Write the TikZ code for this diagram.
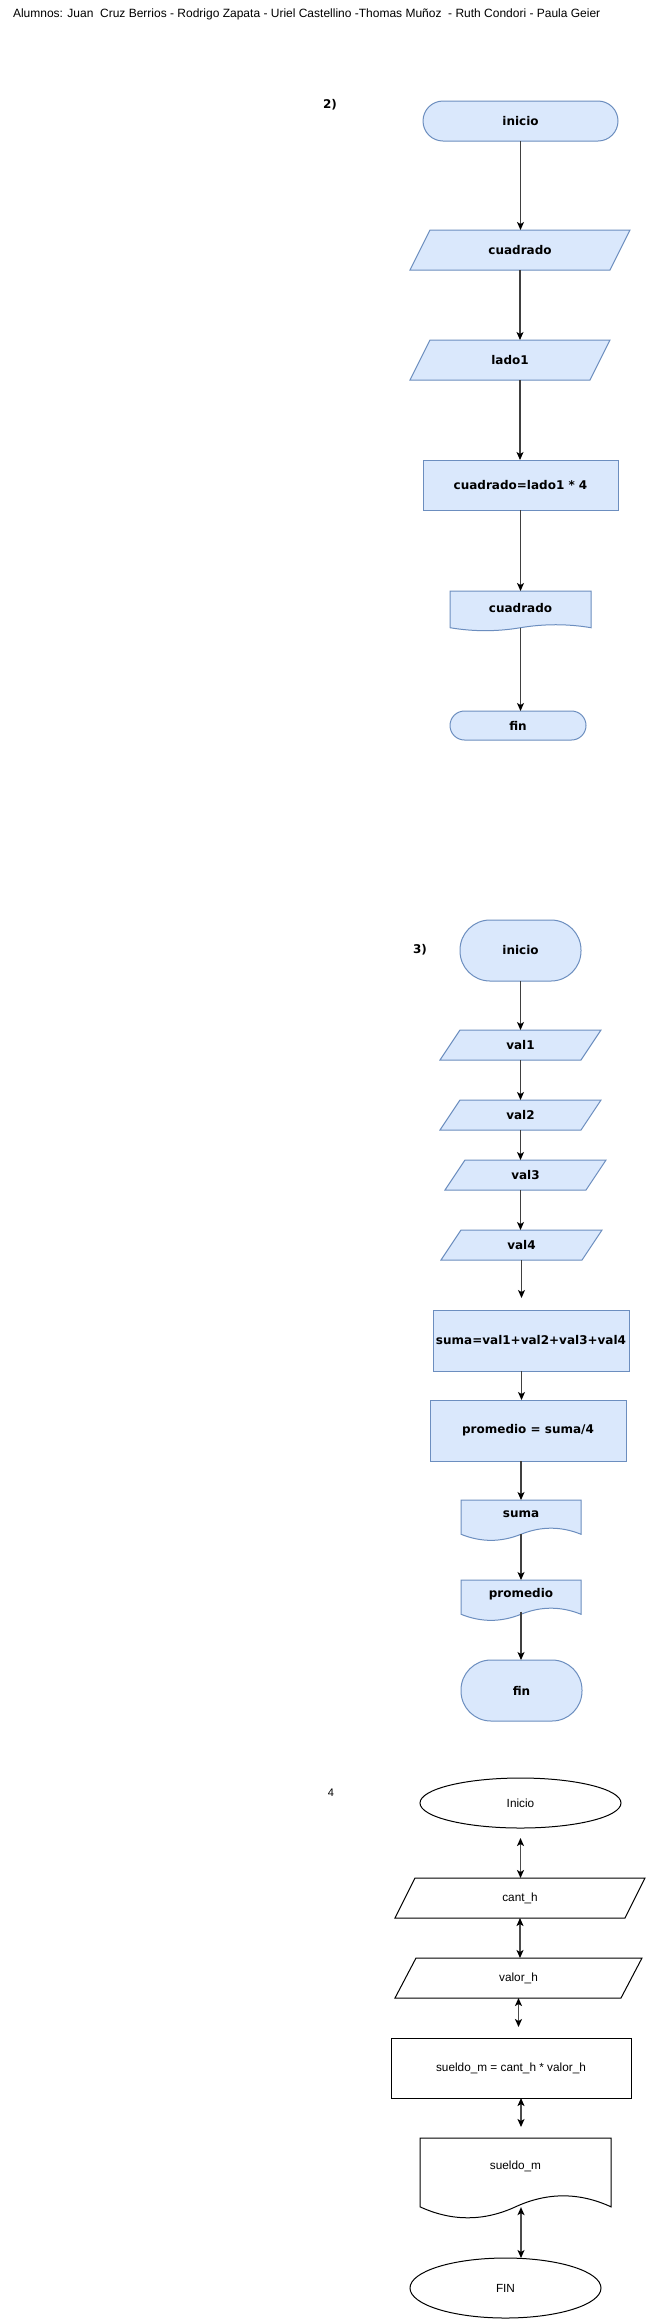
\documentclass[tikz,border=0pt]{standalone}
\usepackage{fontspec}
\setmainfont{Liberation Sans}
\newfontfamily\dejavu{DejaVu Sans}
\usetikzlibrary{arrows.meta,calc,backgrounds,shapes.geometric}
\definecolor{bfill}{HTML}{DAE8FC}
\definecolor{bline}{HTML}{6C8EBF}

% document shape outline around a text node (#2), wave depth #3
\newcommand\docoutline[3]{%
 \begin{pgfonlayer}{background}
 \filldraw[#1] (#2.north west) -- (#2.north east) -- ($(#2.south east)+(0,-0.5*#3)$)
   .. controls ($(#2.south west)!0.8333!(#2.south east)+(0,0.1*#3)$) and ($(#2.south west)!0.6667!(#2.south east)+(0,0.1*#3)$) .. ($(#2.south)+(0,-0.5*#3)$)
   .. controls ($(#2.south west)!0.3333!(#2.south east)+(0,-1.1*#3)$) and ($(#2.south west)!0.1667!(#2.south east)+(0,-1.1*#3)$) .. ($(#2.south west)+(0,-0.5*#3)$) -- cycle;
 \end{pgfonlayer}}
% parallelogram outline around a text node (#2), slant #3
\newcommand\paraoutline[3]{%
 \begin{pgfonlayer}{background}
 \filldraw[#1] ($(#2.north west)+(0.5*#3,0)$) -- ($(#2.north east)+(0.5*#3,0)$) -- ($(#2.south east)+(-0.5*#3,0)$) -- ($(#2.south west)+(-0.5*#3,0)$) -- cycle;
 \end{pgfonlayer}}

\tikzset{
 blu/.style={fill=bfill, draw=bline, line width=1pt},
 blk/.style={fill=white, draw=black, line width=1pt},
 bt/.style={font=\dejavu\bfseries\fontsize{12}{14}\selectfont, text=black, inner sep=0pt, outer sep=0pt},
 nt/.style={font=\fontsize{11.8}{13}\selectfont, text=black, inner sep=0pt, outer sep=0pt},
 conn/.style={draw=black!75, line width=1.1pt, -{Stealth[length=8pt,width=7pt,inset=2pt,color=black]}},
 dconn/.style={draw=black!70, line width=1.4pt, {Stealth[length=8pt,width=7pt,inset=2pt,color=black]}-{Stealth[length=8pt,width=7pt,inset=2pt,color=black]}},
}

\begin{document}
\begin{tikzpicture}[x=1pt,y=-1pt]
\begin{pgfonlayer}{background}
\fill[white] (0,0) rectangle (646,2319);
\end{pgfonlayer}
\useasboundingbox (0,0) rectangle (646,2319);

% title
\node[nt, anchor=west, font=\fontsize{12}{14}\selectfont] (title) at (13,14)
 {Alumnos: Juan\ \ Cruz Berrios - Rodrigo Zapata - Uriel Castellino -Thomas Muñoz\ \ - Ruth Condori - Paula Geier};

% ---------- 2) ----------
\node[bt] (lab2) at (330,105) {2)};
\node[bt, blu, rounded corners=20pt, minimum width=195pt, minimum height=40pt] (s2ini) at (520.5,121) {inicio};
\node[bt, minimum width=200pt, minimum height=40pt] (s2cua) at (520,250) {cuadrado};
\paraoutline{blu}{s2cua}{20pt}
\node[bt, minimum width=180pt, minimum height=40pt] (s2lado) at (510,360) {lado1};
\paraoutline{blu}{s2lado}{20pt}
\node[bt, blu, minimum width=195pt, minimum height=50pt] (s2proc) at (520.5,485) {cuadrado=lado1 * 4};
\node[bt, minimum width=141pt, minimum height=33.4pt] (s2doc) at (520.5,607.7) {cuadrado};
\docoutline{blu}{s2doc}{6.6pt}
\node[bt, blu, rounded corners=14.5pt, minimum width=136pt, minimum height=29pt] (s2fin) at (518,725.5) {fin};

\draw[conn] (s2ini.south) -- (s2ini.south |- s2cua.north);
\draw[conn] (s2cua.south) -- (s2cua.south |- s2lado.north);
\draw[conn] (s2cua.south |- s2lado.south) -- (s2cua.south |- s2proc.north);
\draw[conn] (s2proc.south) -- (s2proc.south |- s2doc.north);
\draw[conn] ([yshift=-3.3pt]s2doc.south) -- (s2doc.south |- s2fin.north);

% ---------- 3) ----------
\node[bt] (lab3) at (420,950) {3)};
\node[bt, blu, rounded corners=30pt, minimum width=121pt, minimum height=61pt] (s3ini) at (520.5,950.5) {inicio};
\node[bt, minimum width=141pt, minimum height=30pt] (v1) at (520.5,1045) {val1};
\paraoutline{blu}{v1}{20pt}
\node[bt, minimum width=141pt, minimum height=30pt] (v2) at (520.5,1115) {val2};
\paraoutline{blu}{v2}{20pt}
\node[bt, minimum width=141pt, minimum height=30pt] (v3) at (525.5,1175) {val3};
\paraoutline{blu}{v3}{20pt}
\node[bt, minimum width=141pt, minimum height=30pt] (v4) at (521.5,1245) {val4};
\paraoutline{blu}{v4}{20pt}
\node[bt, blu, minimum width=196pt, minimum height=61pt] (suma) at (531,1340.5) {suma=val1+val2+val3+val4};
\node[bt, blu, minimum width=196pt, minimum height=61pt] (prom) at (528,1430.5) {promedio = suma/4};
\node[bt, minimum width=120pt, minimum height=27.5pt] (sdoc) at (521,1513.75) {suma};
\docoutline{blu}{sdoc}{13.5pt}
\node[bt, minimum width=120pt, minimum height=27.5pt] (pdoc) at (521,1593.75) {promedio};
\docoutline{blu}{pdoc}{13.5pt}
\node[bt, blu, rounded corners=30pt, minimum width=121pt, minimum height=61pt] (s3fin) at (521.5,1690.5) {fin};

\draw[conn] (s3ini.south) -- (s3ini.south |- v1.north);
\draw[conn] (v1.south) -- (v1.south |- v2.north);
\draw[conn] (v2.south) -- (v2.south |- v3.north);
\draw[conn] (v2.south |- v3.south) -- (v2.south |- v4.north);
\draw[conn, shorten >=12pt] (v4.south) -- (v4.south |- suma.north);
\draw[conn] (v4.south |- suma.south) -- (v4.south |- prom.north);
\draw[conn] (sdoc.north |- prom.south) -- (sdoc.north);
\draw[conn] ([yshift=-6.75pt]sdoc.south) -- (pdoc.north);
\draw[conn] ([yshift=-4pt]pdoc.south) -- (pdoc.south |- s3fin.north);

% ---------- 4 ----------
\node[nt, font=\fontsize{11}{13}\selectfont] (lab4) at (331,1793) {4};
\node[nt, blk, ellipse, minimum width=201pt, minimum height=50pt] (ini4) at (520.5,1803) {Inicio};
\node[nt, minimum width=230pt, minimum height=40pt] (cant) at (520,1898) {cant\_h};
\paraoutline{blk}{cant}{20pt}
\node[nt, minimum width=226pt, minimum height=40pt] (valor) at (518.5,1978) {valor\_h};
\paraoutline{blk}{valor}{21pt}
\node[nt, blk, minimum width=240pt, minimum height=60pt] (proc4) at (511,2068) {sueldo\_m = cant\_h * valor\_h};
\node[nt, minimum width=191pt, minimum height=56.6pt] (doc4) at (515.5,2166.3) {sueldo\_m};
\docoutline{blk}{doc4}{24.4pt}
\node[nt, blk, ellipse, minimum width=191pt, minimum height=60pt] (fin4) at (505.5,2288) {FIN};

\draw[dconn, shorten <=10pt] (ini4.south) -- (ini4.south |- cant.north);
\draw[dconn] (cant.south) -- (cant.south |- valor.north);
\draw[dconn, shorten >=11pt] (valor.south) -- (valor.south |- proc4.north);
\draw[dconn, shorten >=11pt] ([xshift=10pt]proc4.south) -- ([xshift=5.5pt]doc4.north);
\draw[dconn] ([xshift=5.5pt,yshift=-12.5pt]doc4.south) -- ([xshift=15.5pt]fin4.north);
\end{tikzpicture}
\end{document}
